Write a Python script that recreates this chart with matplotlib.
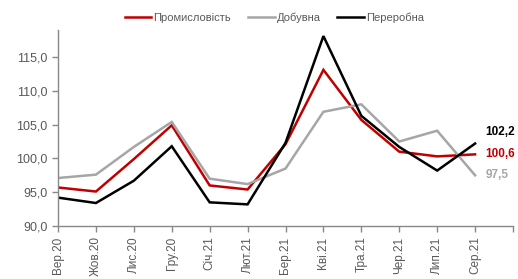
import matplotlib

matplotlib.use("Agg")
import matplotlib.pyplot as plt  # noqa: E402

plt.rcParams["font.family"] = ["Liberation Sans", "DejaVu Sans"]

months = ["Вер.20", "Жов.20", "Лис.20", "Гру.20", "Січ.21", "Лют.21",
          "Бер.21", "Кві.21", "Тра.21", "Чер.21", "Лип.21", "Сер.21"]
industry = [95.7, 95.1, 99.9, 104.9, 96.0, 95.4, 102.1, 113.1, 105.7, 101.0, 100.3, 100.6]
mining = [97.1, 97.6, 101.7, 105.4, 97.0, 96.2, 98.5, 106.9, 108.0, 102.5, 104.1, 97.5]
processing = [94.2, 93.4, 96.7, 101.8, 93.5, 93.2, 102.3, 118.1, 106.3, 101.7, 98.2, 102.2]

series = [
    ("Промисловість", industry, "#C00000"),
    ("Добувна", mining, "#A6A6A6"),
    ("Переробна", processing, "#000000"),
]

fig = plt.figure(figsize=(5.18, 2.79), dpi=100)
ax = fig.add_axes([58 / 518, 53 / 279, 455 / 518, 196 / 279])

x = list(range(len(months)))
for name, values, color in series:
    ax.plot(x, values, color=color, lw=1.8, label=name, solid_joinstyle="miter")

# labels for the last point (black one nudged up, as in the source)
for values, color, dy in [(processing, "#000000", 8.5), (industry, "#C00000", 0), (mining, "#A6A6A6", 0)]:
    ax.annotate(f"{values[-1]:.1f}".replace(".", ","), (x[-1], values[-1]),
                xytext=(7.5, dy), textcoords="offset points", va="center",
                ha="left", fontsize=8.5, fontweight="bold", color=color)

ax.set_xlim(0, 12)
ax.set_ylim(90, 119)
ax.set_yticks([90, 95, 100, 105, 110, 115])
ax.set_yticklabels([f"{v:.1f}".replace(".", ",") for v in [90, 95, 100, 105, 110, 115]])
ax.set_xticks(list(range(13)))
ax.set_xticklabels(months + [""], rotation=90)

for side in ["top", "right"]:
    ax.spines[side].set_visible(False)
for side in ["left", "bottom"]:
    ax.spines[side].set_color("#898989")
    ax.spines[side].set_linewidth(1.0)
ax.tick_params(axis="both", colors="#898989", labelcolor="#595959",
               direction="out", length=4, width=1.0)
ax.tick_params(axis="y", labelsize=9)
ax.tick_params(axis="x", labelsize=8.5)

fig.legend(loc="upper center", bbox_to_anchor=(0.53, 0.99), ncol=3, frameon=False,
           fontsize=8, handlelength=2.4, handletextpad=0.2, columnspacing=1.5,
           labelcolor="#595959")

fig.savefig("out.png", dpi=100)
